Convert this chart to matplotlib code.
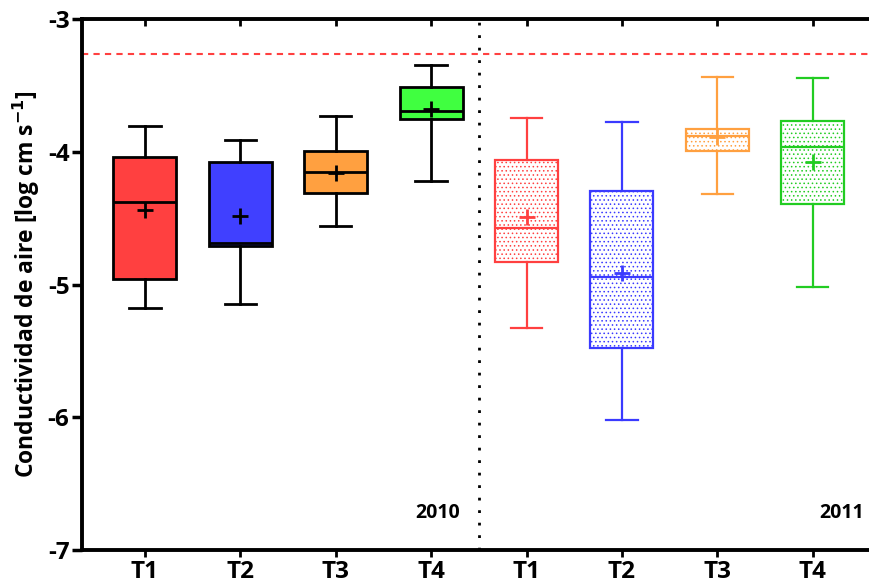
import matplotlib
matplotlib.use("Agg")
import matplotlib.pyplot as plt

# ---- data ----
categories = ["T1", "T2", "T3", "T4", "T1", "T2", "T3", "T4"]
whisker_low = [-5.18, -5.15, -4.56, -4.22, -5.33, -6.02, -4.32, -5.02]
q1 = [-4.96, -4.71, -4.31, -3.755, -4.83, -5.48, -3.995, -4.39]
median = [-4.375, -4.69, -4.155, -3.69, -4.575, -4.945, -3.885, -3.965]
q3 = [-4.04, -4.08, -3.995, -3.515, -4.065, -4.295, -3.83, -3.77]
whisker_high = [-3.805, -3.915, -3.73, -3.347, -3.745, -3.775, -3.435, -3.447]
mean = [-4.44, -4.485, -4.16, -3.68, -4.49, -4.91, -3.89, -4.08]
years = ["2010", "2011"]
reference_level = -3.26
y_ticks = [-7, -6, -5, -4, -3]

fill_colors = ["#FF4040", "#4040FF", "#FFA040", "#40FF40"]
edge_colors_2011 = ["#FF4040", "#3A3AFF", "#FFA040", "#22CC22"]

plt.rcParams['font.family'] = ['Open Sans', 'DejaVu Sans']
plt.rcParams['hatch.linewidth'] = 0.6

fig = plt.figure(figsize=(8.69, 5.86), dpi=100)
ax = fig.add_axes([82/869, 1-550/586, 1-82/869, (550-19)/586])

positions = list(range(1, len(categories) + 1))
stats = []
for i in range(len(categories)):
    stats.append(dict(med=median[i], q1=q1[i], q3=q3[i],
                      whislo=whisker_low[i], whishi=whisker_high[i],
                      mean=mean[i], fliers=[]))

for i, st in enumerate(stats):
    j = i % 4
    if i < 4:
        ec = "black"
        fc = fill_colors[j]
        hatch = None
        lw = 2.0
    else:
        ec = edge_colors_2011[j]
        fc = "white"
        hatch = "...."
        lw = 1.6
    ax.bxp([st], positions=[positions[i]], widths=0.66, showmeans=True,
           showfliers=False, patch_artist=True, capwidths=[0.33],
           boxprops=dict(facecolor=fc, edgecolor=ec, linewidth=lw, hatch=hatch),
           medianprops=dict(color=ec, linewidth=lw),
           whiskerprops=dict(color=ec, linewidth=lw),
           capprops=dict(color=ec, linewidth=lw),
           meanprops=dict(marker='+', markeredgecolor=ec, markerfacecolor=ec,
                          markersize=11, markeredgewidth=2.0))

ax.axhline(reference_level, color="#FF4040", linestyle=(0, (3, 2.5)), linewidth=1.5, zorder=1)
ax.axvline(4.5, color="black", linestyle=(0, (1, 3.5)), linewidth=2.0, zorder=1)

ax.set_xlim(0.34, 8.59)
ax.set_ylim(-7, -3)
ax.set_yticks(y_ticks)
ax.set_yticklabels([f"-{abs(v)}" for v in y_ticks])
ax.set_xticks(positions)
ax.set_xticklabels(categories)

for lab in ax.get_xticklabels() + ax.get_yticklabels():
    lab.set_fontweight("bold")
    lab.set_fontsize(17.5)

ax.tick_params(axis='y', direction='out', length=7, width=2.5, pad=2)
ax.tick_params(axis='x', direction='out', length=5, width=2.0, pad=2, top=True)
for t in ax.xaxis.get_major_ticks():
    t.tick2line.set_marker(3)  # tick pointing down (inward) on top spine
    t.tick2line.set_markersize(5)
    t.tick2line.set_markeredgewidth(2.0)

for side in ["left", "bottom", "top"]:
    ax.spines[side].set_linewidth(2.8)
ax.spines["right"].set_visible(False)

ax.set_ylabel("Conductividad de aire [log cm s$^{\\mathbf{-1}}$]", fontsize=16.5,
              fontweight="bold", labelpad=4)

ax.text(4.3, -6.72, years[0], fontsize=14, fontweight="bold", ha="right", va="center")
ax.text(8.54, -6.72, years[1], fontsize=14, fontweight="bold", ha="right", va="center")

fig.savefig("out.png", dpi=100)
